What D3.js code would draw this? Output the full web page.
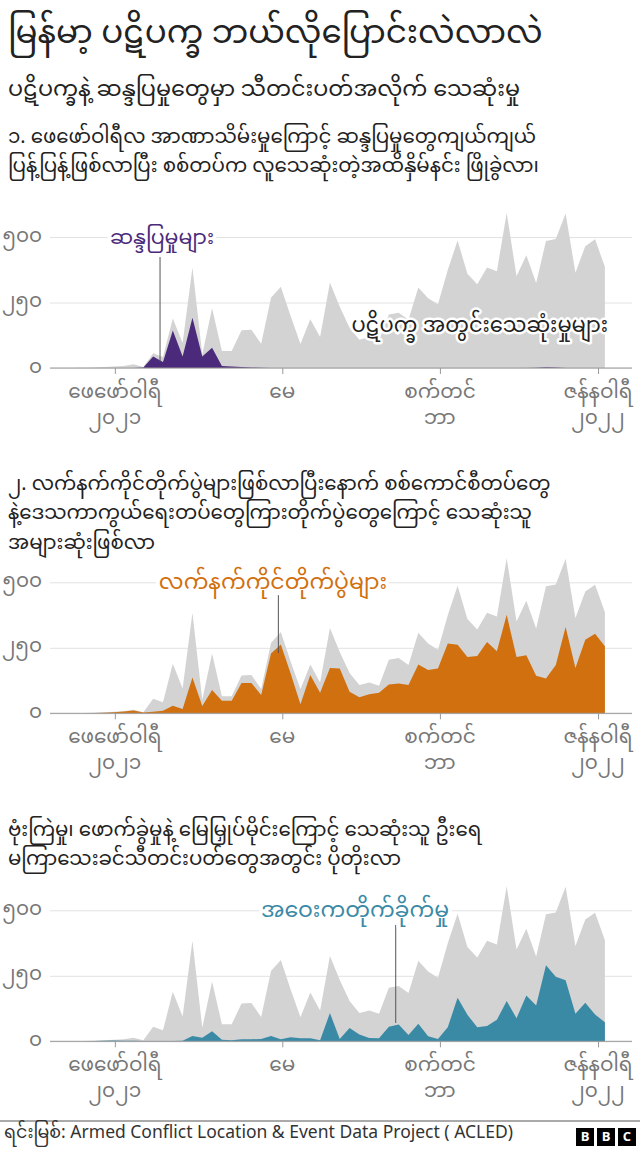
<!DOCTYPE html>
<html>
<head>
<meta charset="utf-8">
<script src="https://cdn.jsdelivr.net/npm/d3@7"></script>
<style>
  body { margin: 0; background: #fff; }
  svg text { font-family: "Noto Sans Myanmar", "Padauk", "Myanmar Text", "Noto Sans", sans-serif; }
</style>
</head>
<body>
<svg id="chart" width="640" height="1153"></svg>
<script>
// weekly deaths (week 0 = early Jan 2021)
const totalDeaths = [1, 1, 2, 4, 6, 8, 14, 4, 56, 42, 189, 95, 384, 52, 228, 65, 65, 144, 146, 93,
  268, 310, 198, 92, 186, 118, 326, 234, 154, 108, 118, 105, 204, 211, 184, 307, 266, 243, 374, 487,
  360, 320, 384, 369, 592, 350, 430, 324, 485, 492, 590, 364, 465, 491, 386];
const protestDeaths = [0, 0, 0, 0, 0, 0, 0, 2, 44, 23, 143, 44, 192, 44, 77, 8, 6, 4, 2, 1,
  0, 0, 0, 0, 0, 0, 0, 0, 0, 0, 0, 0, 0, 0, 0, 0, 0, 0, 0, 0,
  0, 0, 0, 0, 0, 0, 0, 1, 3, 2, 0, 0, 0, 0, 0];
const battleDeaths = [0, 0, 1, 2, 4, 7, 11, 3, 6, 10, 29, 16, 137, 28, 89, 48, 48, 116, 116, 70,
  228, 263, 152, 35, 146, 78, 173, 171, 82, 61, 73, 78, 110, 114, 108, 186, 165, 171, 266, 262,
  215, 219, 272, 237, 376, 215, 222, 143, 133, 184, 329, 173, 281, 304, 256];
const remoteDeaths = [0, 0, 1, 2, 3, 2, 2, 1, 1, 1, 1, 2, 20, 14, 38, 6, 4, 8, 8, 9,
  20, 8, 15, 12, 12, 4, 108, 9, 51, 26, 13, 12, 56, 64, 24, 67, 19, 9, 54, 166,
  101, 54, 58, 82, 154, 88, 175, 137, 290, 246, 233, 105, 147, 102, 73];

const yTicks = [0, 250, 500];
const yTickLabels = ["၀", "၂၅၀", "၅၀၀"];
const xTickWeeks = [4.1, 21.15, 37.2, 53.3];
const xTickLabels = [["ဖေဖော်ဝါရီ", "၂၀၂၁"], ["မေ"], ["စက်တင်", "ဘာ"], ["ဇန်နဝါရီ", "၂၀၂၂"]];

const titleText = "မြန်မာ့ ပဋိပက္ခ ဘယ်လိုပြောင်းလဲလာလဲ";
const subtitleText = "ပဋိပက္ခနဲ့ ဆန္ဒပြမှုတွေမှာ သီတင်းပတ်အလိုက် သေဆုံးမှု";
const sourceText = "ရင်းမြစ်: Armed Conflict Location & Event Data Project ( ACLED)";

const panels = [
  {
    heading: ["၁. ဖေဖော်ဝါရီလ အာဏာသိမ်းမှုကြောင့် ဆန္ဒပြမှုတွေကျယ်ကျယ်",
              "ပြန့်ပြန့်ဖြစ်လာပြီး စစ်တပ်က လူသေဆုံးတဲ့အထိနှိမ်နင်း ဖြိုခွဲလာ၊"],
    headingY: 138, zero: 368,
    values: protestDeaths, color: "#4b2a7b",
    label: "ဆန္ဒပြမှုများ", labelX: 162, labelSize: 20.5, pointer: [8.7, 24, 425],
    totalLabel: true
  },
  {
    heading: ["၂. လက်နက်ကိုင်တိုက်ပွဲများဖြစ်လာပြီးနောက် စစ်ကောင်စီတပ်တွေ",
              "နဲ့ဒေသကာကွယ်ရေးတပ်တွေကြားတိုက်ပွဲတွေကြောင့် သေဆုံးသူ",
              "အများဆုံးဖြစ်လာ"],
    headingY: 485, zero: 713.3,
    values: battleDeaths, color: "#d1700f",
    label: "လက်နက်ကိုင်တိုက်ပွဲများ", labelX: 273, labelSize: 22, pointer: [20.75, 230, 451]
  },
  {
    heading: ["ဗုံးကြဲမှု၊ ဖောက်ခွဲမှုနဲ့ မြေမြှုပ်မိုင်းကြောင့် သေဆုံးသူ ဦးရေ",
              "မကြာသေးခင်သီတင်းပတ်တွေအတွင်း ပိုတိုးလာ"],
    headingY: 831, zero: 1041.3,
    values: remoteDeaths, color: "#3a8aa6",
    label: "အဝေးကတိုက်ခိုက်မှု", labelX: 355, labelSize: 22, pointer: [32.7, 70, 444]
  }
];

const svg = d3.select("#chart");
const left = 50, right = 632;
const x = d3.scaleLinear().domain([0, totalDeaths.length - 1]).range([74.6, 604.9]);

svg.append("text")
  .attr("x", 8).attr("y", 35)
  .attr("dominant-baseline", "central")
  .attr("font-size", 32.5).attr("fill", "#222")
  .text(titleText);

svg.append("text")
  .attr("x", 8).attr("y", 90)
  .attr("dominant-baseline", "central")
  .attr("font-size", 22.3).attr("fill", "#222")
  .text(subtitleText);

function drawPanel(p) {
  const y = d3.scaleLinear().domain([0, 500]).range([p.zero, p.zero - 131]);
  const g = svg.append("g");

  p.heading.forEach((line, i) => {
    g.append("text")
      .attr("x", 8).attr("y", p.headingY + i * 29.5)
      .attr("dominant-baseline", "central")
      .attr("font-size", 19.8).attr("fill", "#222")
      .text(line);
  });

  // gridlines + y labels
  const yAxis = g.append("g")
    .attr("transform", `translate(${right},0)`)
    .call(d3.axisLeft(y).tickValues(yTicks).tickSize(right - left).tickFormat(""));
  yAxis.select(".domain").remove();
  yAxis.selectAll(".tick line").attr("stroke", "#e2e2e2");

  g.selectAll(".ylab")
    .data(yTicks)
    .join("text")
    .attr("class", "ylab")
    .attr("x", 42).attr("y", d => y(d))
    .attr("text-anchor", "end")
    .attr("dominant-baseline", "central")
    .attr("font-size", 20).attr("fill", "#777")
    .text((d, i) => yTickLabels[i]);

  const area = d3.area()
    .x((d, i) => x(i))
    .y0(y(0))
    .y1(d => y(d));

  g.append("path").datum(totalDeaths)
    .attr("d", area).attr("fill", "#d3d3d3");
  g.append("path").datum(p.values)
    .attr("d", area).attr("fill", p.color);

  // baseline + ticks
  const xAxis = g.append("g")
    .attr("transform", `translate(0,${y(0)})`)
    .call(d3.axisBottom(x).tickValues(xTickWeeks).tickSize(6).tickFormat(""));
  xAxis.select(".domain").remove();
  xAxis.selectAll(".tick line").attr("stroke", "#999");
  g.append("line")
    .attr("x1", left).attr("x2", right)
    .attr("y1", y(0)).attr("y2", y(0))
    .attr("stroke", "#999");

  xTickWeeks.forEach((w, i) => {
    const t = g.append("text")
      .attr("x", x(w)).attr("y", y(0) + 25)
      .attr("text-anchor", "middle")
      .attr("dominant-baseline", "central")
      .attr("font-size", 20).attr("fill", "#777");
    xTickLabels[i].forEach((s, j) => {
      t.append("tspan").attr("x", x(w)).attr("dy", j ? 26 : 0).text(s);
    });
  });

  // annotation
  g.append("line")
    .attr("x1", x(p.pointer[0])).attr("x2", x(p.pointer[0]))
    .attr("y1", y(p.pointer[1])).attr("y2", y(p.pointer[2]))
    .attr("stroke", "#555").attr("stroke-width", 1);
  g.append("text")
    .attr("x", p.labelX).attr("y", y(500) + 2)
    .attr("text-anchor", "middle")
    .attr("dominant-baseline", "central")
    .attr("font-size", p.labelSize).attr("fill", p.color)
    .attr("stroke", "#fff").attr("stroke-width", 8)
    .attr("paint-order", "stroke").attr("stroke-linejoin", "round")
    .text(p.label);

  if (p.totalLabel) {
    g.append("text")
      .attr("x", 608).attr("y", y(156))
      .attr("text-anchor", "end")
      .attr("dominant-baseline", "central")
      .attr("font-size", 21).attr("fill", "#222")
      .attr("stroke", "#fff").attr("stroke-width", 5)
      .attr("paint-order", "stroke").attr("stroke-linejoin", "round")
      .text("ပဋိပက္ခ အတွင်းသေဆုံးမှုများ");
  }
}

panels.forEach(drawPanel);

// footer
svg.append("line")
  .attr("x1", 0).attr("x2", 640)
  .attr("y1", 1121).attr("y2", 1121)
  .attr("stroke", "#555");
svg.append("text")
  .attr("x", 4).attr("y", 1134)
  .attr("dominant-baseline", "central")
  .attr("font-size", 17.5).attr("fill", "#333")
  .text(sourceText);

const logo = svg.append("g").attr("transform", "translate(576,1128)");
["B", "B", "C"].forEach((c, i) => {
  logo.append("rect")
    .attr("x", i * 21).attr("y", 0)
    .attr("width", 18).attr("height", 18)
    .attr("fill", "#000");
  logo.append("text")
    .attr("x", i * 21 + 9).attr("y", 10)
    .attr("text-anchor", "middle")
    .attr("dominant-baseline", "central")
    .attr("font-family", "Liberation Sans, Arial, sans-serif")
    .attr("font-weight", "bold")
    .attr("font-size", 13).attr("fill", "#fff")
    .text(c);
});
</script>
</body>
</html>
